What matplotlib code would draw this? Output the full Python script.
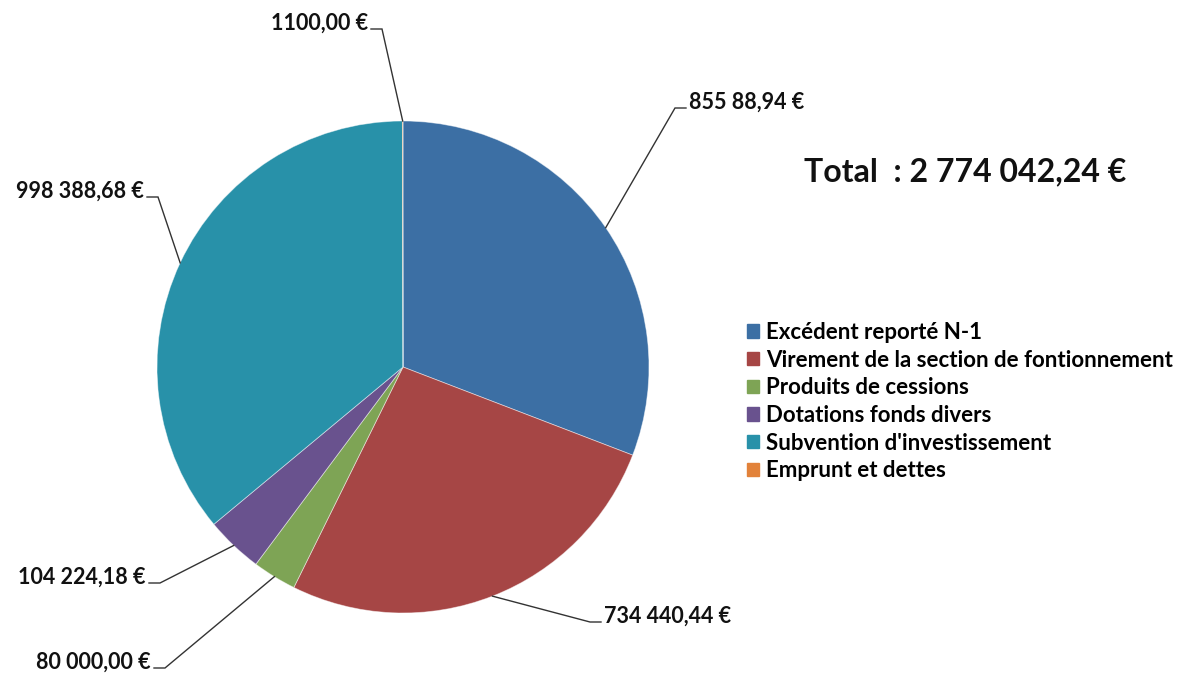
"""Camembert des recettes d'investissement."""

import matplotlib

matplotlib.use("Agg")
import matplotlib.pyplot as plt
import numpy as np

categories = [
    "Excédent reporté N-1",
    "Virement de la section de fontionnement",
    "Produits de cessions",
    "Dotations fonds divers",
    "Subvention d'investissement",
    "Emprunt et dettes",
]
values = [855088.94, 734440.44, 80000.00, 104224.18, 998388.68, 1100.00]
value_labels = [
    "855 88,94 €",
    "734 440,44 €",
    "80 000,00 €",
    "104 224,18 €",
    "998 388,68 €",
    "1100,00 €",
]
total_label = "Total  : 2 774 042,24 €"
colors = ["#3C6FA4", "#A64645", "#7EA455", "#69528E", "#2891A9", "#E2823A"]

plt.rcParams["font.family"] = ["Lato", "DejaVu Sans"]
plt.rcParams["font.weight"] = "bold"

W, H = 1183, 674
fig = plt.figure(figsize=(W / 100, H / 100), dpi=100)
ax = fig.add_axes([0, 0, 1, 1])

cx, cy, R = 403, H - 367, 246
wedges, _ = ax.pie(
    values,
    colors=colors,
    startangle=90,
    counterclock=False,
    center=(cx, cy),
    radius=R,
    wedgeprops=dict(edgecolor=(1, 1, 1, 0.5), linewidth=0.6),
)
ax.set_xlim(0, W)
ax.set_ylim(0, H)
ax.set_aspect("equal")
ax.axis("off")

# leader layout in image pixels: elbow point, side of the text
elbows = [(675, 108, 1), (590, 622, 1), (165, 668, -1), (160, 583, -1), (158, 197, -1), (382, 29, -1)]
for w, lab, (ex, ey, side) in zip(wedges, value_labels, elbows):
    mid = np.deg2rad((w.theta1 + w.theta2) / 2)
    ax0 = cx + R * np.cos(mid)
    ay0 = cy + R * np.sin(mid)
    ey = H - ey
    hx = ex + side * 11
    ax.plot([ax0, ex, hx], [ay0, ey, ey], color="#333333", lw=1.0, solid_joinstyle="miter")
    ax.text(hx + side * 3, ey + 6, lab, ha="left" if side > 0 else "right",
            va="center", fontsize=15.5, fontweight="bold", color="#111111")

ax.text(804, H - 172, total_label, ha="left", va="center", fontsize=23,
        fontweight="bold", color="#111111")

handles = [plt.Rectangle((0, 0), 1, 1, color=c) for c in colors]
fig.legend(
    handles,
    categories,
    loc="upper left",
    bbox_to_anchor=(738 / W, 1 - 313 / H),
    frameon=False,
    fontsize=16,
    handlelength=0.55,
    handleheight=0.55,
    handletextpad=0.3,
    labelspacing=0.3,
    borderaxespad=0,
)

fig.savefig("out.png", dpi=100)
